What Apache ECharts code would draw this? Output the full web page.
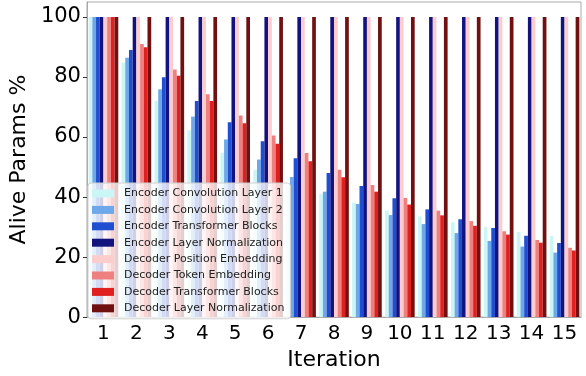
<!DOCTYPE html>
<html>
<head>
<meta charset="utf-8">
<script src="https://cdn.jsdelivr.net/npm/echarts@6/dist/echarts.min.js"></script>
<style>
  html, body { margin: 0; padding: 0; background: #fff; }
  #chart { width: 586px; height: 376px; }
</style>
</head>
<body>
<div id="chart"></div>
<script>
// Iterations on the x axis
const iterations = ['1', '2', '3', '4', '5', '6', '7', '8', '9', '10', '11', '12', '13', '14', '15'];

// Alive params % per layer group
const encConv1 = [100, 84.8, 72.1, 62.3, 54.8, 49.1, 44.0, 41.1, 38.2, 35.5, 33.6, 31.6, 30.0, 28.4, 27.1];
const encConv2 = [100, 86.4, 75.9, 66.8, 59.2, 52.5, 46.7, 41.8, 37.7, 34.0, 31.0, 28.0, 25.4, 23.5, 21.5];
const encBlocks = [100, 89.0, 79.9, 72.0, 64.9, 58.6, 52.9, 48.0, 43.7, 39.6, 35.9, 32.6, 29.7, 27.1, 24.7];
const encNorm = [100, 100, 100, 100, 100, 100, 100, 100, 100, 100, 100, 100, 100, 100, 100];
const decPos = [100, 100, 100, 100, 100, 100, 100, 100, 100, 100, 100, 100, 100, 100, 100];
const decToken = [100, 91.0, 82.5, 74.3, 67.2, 60.5, 54.7, 49.1, 44.0, 39.7, 35.5, 32.0, 28.6, 25.7, 23.1];
const decBlocks = [100, 89.9, 80.4, 72.0, 64.6, 57.8, 51.9, 46.6, 41.8, 37.5, 33.9, 30.4, 27.5, 24.8, 22.2];
const decNorm = [100, 100, 100, 100, 100, 100, 100, 100, 100, 100, 100, 100, 100, 100, 100];

const seriesNames = [
    'Encoder Convolution Layer 1',
    'Encoder Convolution Layer 2',
    'Encoder Transformer Blocks',
    'Encoder Layer Normalization',
    'Decoder Position Embedding',
    'Decoder Token Embedding',
    'Decoder Transformer Blocks',
    'Decoder Layer Normalization'
];
const seriesData = [encConv1, encConv2, encBlocks, encNorm, decPos, decToken, decBlocks, decNorm];
const colors = ['#cbf6f6', '#6ea8e8', '#1f4ed0', '#13137f', '#fdcdcd', '#ef8080', '#e01f1f', '#701010'];

const chart = echarts.init(document.getElementById('chart'), null, { renderer: 'canvas' });

const font = 'DejaVu Sans';

const option = {
    animation: false,
    color: colors,
    grid: {
        left: 82,
        right: 5,
        top: 2,
        bottom: 51,
        show: true,
        borderColor: '#aaa',
        borderWidth: 1
    },
    legend: {
        orient: 'vertical',
        left: 88,
        top: 183,
        padding: [5, 6, 5, 4],
        itemWidth: 22,
        itemHeight: 8,
        itemGap: 5.4,
        backgroundColor: 'rgba(255,255,255,0.8)',
        borderColor: '#d0d0d0',
        borderWidth: 1,
        borderRadius: 3,
        textStyle: {
            fontFamily: font,
            fontSize: 11,
            color: '#222',
            lineHeight: 10,
            padding: [0, 0, 0, 5]
        },
        data: seriesNames.map(name => ({ name, icon: 'rect' }))
    },
    xAxis: {
        type: 'category',
        data: iterations,
        name: 'Iteration',
        nameLocation: 'middle',
        nameGap: 22,
        nameTextStyle: { fontFamily: font, fontSize: 22, color: '#000' },
        axisLine: { lineStyle: { color: '#aaa' } },
        axisTick: { alignWithLabel: true, interval: 0, length: 4, lineStyle: { color: '#333' } },
        axisLabel: { interval: 0, fontFamily: font, fontSize: 20, color: '#000', margin: 7 }
    },
    yAxis: {
        type: 'value',
        min: 0,
        max: 105,
        interval: 20,
        name: 'Alive Params %',
        nameLocation: 'middle',
        nameGap: 49,
        nameTextStyle: { fontFamily: font, fontSize: 22, color: '#000' },
        splitLine: { show: false },
        axisLine: { show: true, lineStyle: { color: '#aaa' } },
        axisTick: { show: true, length: 4, lineStyle: { color: '#333' } },
        axisLabel: { showMaxLabel: false, fontFamily: font, fontSize: 21, color: '#000', margin: 6 }
    },
    series: seriesNames.map((name, i) => ({
        name,
        type: 'bar',
        data: seriesData[i],
        barGap: '0%',
        barCategoryGap: '10%'
    }))
};

chart.setOption(option);
</script>
</body>
</html>
